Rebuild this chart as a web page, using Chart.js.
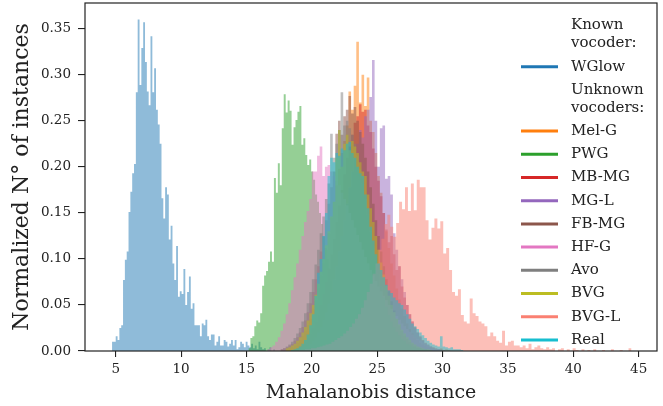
<!DOCTYPE html>
<html lang="en">
<head>
    <meta charset="UTF-8">
    <title>Mahalanobis distance</title>
    <style>
        html, body { margin: 0; padding: 0; background: #fff; }
        canvas { display: block; }
    </style>
</head>
<body>
<canvas id="myChart" width="663" height="406"></canvas>

<script src="https://cdn.jsdelivr.net/npm/chart.js@4"></script>
<script>
    // series, in drawing order (last one ends up on top)
    const names = ['WGlow', 'Mel-G', 'PWG', 'MB-MG', 'MG-L', 'FB-MG', 'HF-G', 'Avo', 'BVG', 'BVG-L', 'Real'];
    const colors = ['#1f77b4', '#ff7f0e', '#2ca02c', '#d62728', '#9467bd', '#8c564b', '#e377c2', '#7f7f7f', '#bcbd22', '#fa8072', '#17becf'];

    // left edge of the first bin and bin width of each histogram
    const binStart = [4.72, 18.0, 15.15, 18.6, 19.0, 17.6, 16.6, 17.6, 18.0, 19.025, 18.4];
    const binWidth = [0.14, 0.2, 0.15, 0.2, 0.2, 0.2, 0.2, 0.2, 0.2, 0.225, 0.2];

    const wglow = [0.010, 0.010, 0.016, 0.012, 0.025, 0.028, 0.077, 0.099, 0.108, 0.151, 0.173, 0.193, 0.203, 0.281,
        0.360, 0.289, 0.329, 0.357, 0.314, 0.282, 0.267, 0.342, 0.281, 0.307, 0.262, 0.246, 0.225, 0.166, 0.144, 0.178,
        0.170, 0.121, 0.136, 0.095, 0.077, 0.114, 0.059, 0.065, 0.062, 0.089, 0.050, 0.064, 0.081, 0.046, 0.052, 0.028,
        0.028, 0.028, 0.016, 0.030, 0.028, 0.034, 0.016, 0.012, 0.018, 0.018, 0.006, 0.010, 0.016, 0.006, 0.006, 0.012,
        0.010, 0.005, 0.008, 0.012, 0.006, 0.012, 0.002, 0.004, 0.010, 0.008, 0.004, 0.010, 0.006, 0.004, 0.008, 0.003,
        0.006, 0.002, 0.010, 0.004, 0.002, 0.003, 0, 0.002, 0.004, 0, 0.002];
    const melG = [0.002, 0.003, 0.004, 0.006, 0.009, 0.012, 0.016, 0.022, 0.028, 0.035, 0.046, 0.055, 0.068, 0.082,
        0.095, 0.110, 0.128, 0.145, 0.162, 0.180, 0.198, 0.215, 0.228, 0.245, 0.282, 0.262, 0.288, 0.336, 0.270, 0.300,
        0.266, 0.297, 0.250, 0.238, 0.215, 0.190, 0.172, 0.150, 0.130, 0.112, 0.095, 0.082, 0.068, 0.056, 0.046, 0.038,
        0.030, 0.024, 0.019, 0.015, 0.012, 0.009, 0.007, 0.006, 0.004, 0.004, 0.003, 0.002, 0.002, 0.003, 0.001, 0.002,
        0.001];
    const pwg = [0.003, 0.014, 0.016, 0.027, 0.033, 0.031, 0.041, 0.071, 0.082, 0.087, 0.097, 0.108, 0.097, 0.188,
        0.172, 0.204, 0.180, 0.242, 0.279, 0.259, 0.272, 0.261, 0.224, 0.243, 0.251, 0.260, 0.266, 0.224, 0.231, 0.213,
        0.202, 0.208, 0.195, 0.186, 0.170, 0.162, 0.150, 0.138, 0.124, 0.112, 0.100, 0.088, 0.076, 0.064, 0.054, 0.045,
        0.037, 0.030, 0.024, 0.018, 0.014, 0.010, 0.008, 0.006, 0.004, 0.003, 0.002];
    const mbMG = [0.002, 0.003, 0.005, 0.007, 0.010, 0.014, 0.019, 0.025, 0.032, 0.040, 0.050, 0.062, 0.075, 0.090,
        0.105, 0.122, 0.140, 0.158, 0.175, 0.192, 0.210, 0.222, 0.235, 0.248, 0.255, 0.268, 0.260, 0.262, 0.245, 0.238,
        0.220, 0.200, 0.185, 0.168, 0.150, 0.132, 0.118, 0.125, 0.105, 0.088, 0.092, 0.070, 0.058, 0.050, 0.040, 0.032,
        0.026, 0.020, 0.016, 0.012, 0.009, 0.007, 0.005, 0.004, 0.003, 0.002, 0.002, 0.001];
    const mgL = [0.002, 0.003, 0.004, 0.006, 0.008, 0.011, 0.015, 0.020, 0.026, 0.034, 0.042, 0.052, 0.064, 0.078,
        0.092, 0.108, 0.125, 0.142, 0.160, 0.178, 0.195, 0.210, 0.225, 0.240, 0.232, 0.255, 0.262, 0.276, 0.316, 0.250,
        0.200, 0.242, 0.245, 0.187, 0.190, 0.170, 0.128, 0.110, 0.092, 0.078, 0.064, 0.050, 0.040, 0.032, 0.025, 0.020,
        0.015, 0.011, 0.008, 0.006, 0.005, 0.003, 0.002, 0.002, 0.001];
    const fbMG = [0.002, 0.003, 0.004, 0.006, 0.008, 0.011, 0.015, 0.020, 0.026, 0.033, 0.042, 0.052, 0.064, 0.078,
        0.092, 0.108, 0.125, 0.142, 0.160, 0.178, 0.195, 0.236, 0.250, 0.235, 0.255, 0.262, 0.277, 0.258, 0.265, 0.250,
        0.238, 0.225, 0.210, 0.195, 0.178, 0.160, 0.142, 0.125, 0.108, 0.092, 0.078, 0.065, 0.054, 0.044, 0.035, 0.028,
        0.022, 0.017, 0.013, 0.010, 0.008, 0.006, 0.004, 0.003, 0.002, 0.002, 0.001];
    const hfG = [0.002, 0.004, 0.006, 0.010, 0.015, 0.022, 0.030, 0.040, 0.052, 0.066, 0.080, 0.095, 0.110, 0.125,
        0.140, 0.152, 0.165, 0.195, 0.195, 0.212, 0.222, 0.190, 0.200, 0.202, 0.195, 0.190, 0.185, 0.180, 0.172, 0.165,
        0.158, 0.150, 0.142, 0.134, 0.126, 0.118, 0.110, 0.102, 0.095, 0.088, 0.082, 0.076, 0.070, 0.065, 0.060, 0.055,
        0.050, 0.046, 0.042, 0.038, 0.034, 0.030, 0.027, 0.024, 0.021, 0.018, 0.015, 0.013, 0.011, 0.009, 0.007, 0.006,
        0.004, 0.003, 0.002, 0.002];
    const avo = [0.002, 0.003, 0.005, 0.007, 0.010, 0.014, 0.019, 0.025, 0.032, 0.041, 0.052, 0.064, 0.078, 0.094,
        0.110, 0.128, 0.146, 0.165, 0.182, 0.236, 0.210, 0.225, 0.240, 0.281, 0.245, 0.250, 0.242, 0.235, 0.225, 0.212,
        0.198, 0.182, 0.165, 0.148, 0.130, 0.114, 0.098, 0.084, 0.070, 0.058, 0.048, 0.039, 0.032, 0.026, 0.021, 0.017,
        0.013, 0.011, 0.008, 0.007, 0.005, 0.004, 0.003, 0.003, 0.002, 0.002, 0.001];
    const bvg = [0.003, 0.004, 0.006, 0.008, 0.011, 0.015, 0.020, 0.026, 0.033, 0.041, 0.050, 0.061, 0.073, 0.086,
        0.100, 0.115, 0.130, 0.146, 0.162, 0.210, 0.240, 0.200, 0.225, 0.235, 0.218, 0.228, 0.222, 0.215, 0.205, 0.195,
        0.190, 0.170, 0.155, 0.140, 0.125, 0.110, 0.096, 0.083, 0.071, 0.060, 0.050, 0.042, 0.035, 0.029, 0.023, 0.019,
        0.015, 0.012, 0.009, 0.007, 0.005, 0.004, 0.003, 0.002, 0.002, 0.001];
    const bvgL = [0.001, 0.001, 0.002, 0.002, 0.003, 0.003, 0.004, 0.005, 0.006, 0.007, 0.008, 0.010, 0.012, 0.014,
        0.016, 0.019, 0.022, 0.026, 0.030, 0.035, 0.040, 0.047, 0.055, 0.064, 0.073, 0.084, 0.095, 0.110, 0.122, 0.138,
        0.148, 0.135, 0.124, 0.139, 0.162, 0.154, 0.178, 0.152, 0.182, 0.153, 0.186, 0.178, 0.178, 0.142, 0.121, 0.134,
        0.144, 0.133, 0.141, 0.106, 0.112, 0.088, 0.064, 0.060, 0.067, 0.039, 0.032, 0.030, 0.057, 0.041, 0.038, 0.032,
        0.030, 0.027, 0.016, 0.020, 0.016, 0.011, 0.009, 0.022, 0.006, 0.010, 0.011, 0.006, 0.006, 0.004, 0.006, 0.003,
        0.008, 0.002, 0.004, 0.006, 0.003, 0.002, 0.004, 0.002, 0.003, 0, 0.002, 0.003, 0, 0.002, 0, 0.003, 0.001, 0,
        0.002, 0, 0.001, 0, 0.002, 0, 0, 0.001, 0, 0, 0.002, 0, 0, 0.001, 0, 0, 0.003];
    const real = [0.001, 0.002, 0.003, 0.005, 0.008, 0.012, 0.018, 0.028, 0.040, 0.060, 0.085, 0.100, 0.125, 0.150,
        0.190, 0.210, 0.205, 0.215, 0.212, 0.220, 0.218, 0.225, 0.227, 0.215, 0.210, 0.200, 0.193, 0.190, 0.170, 0.155,
        0.135, 0.120, 0.105, 0.095, 0.088, 0.080, 0.072, 0.066, 0.063, 0.058, 0.055, 0.052, 0.050, 0.045, 0.040, 0.035,
        0.030, 0.027, 0.024, 0.020, 0.017, 0.014, 0.011, 0.009, 0.007, 0.006, 0.005, 0.016, 0.005, 0.004, 0.003, 0.004,
        0.002, 0.002, 0.002, 0.001];

    const series = [wglow, melG, pwg, mbMG, mgL, fbMG, hfG, avo, bvg, bvgL, real];

    const xRange = [2.65, 46.4];
    const yRange = [0, 0.378];
    const xTicks = [5, 10, 15, 20, 25, 30, 35, 40, 45];
    const yTicks = [0, 0.05, 0.10, 0.15, 0.20, 0.25, 0.30, 0.35];

    // legend: group headings followed by the series indexes under them
    const legendRows = [['Known', 'vocoder:'], 0, ['Unknown', 'vocoders:'], 1, 2, 3, 4, 5, 6, 7, 8, 9, 10];

    const serif = '"DejaVu Serif", serif';
    const ink = '#222222';

    function withAlpha(hex, a) {
        let n = parseInt(hex.slice(1), 16);
        return 'rgba(' + (n >> 16) + ',' + ((n >> 8) & 255) + ',' + (n & 255) + ',' + a + ')';
    }

    // step outline of a histogram: one point per bin left edge, plus the closing right edge
    function histPoints(start, width, values) {
        let pts = values.map((v, i) => ({x: start + i * width, y: v}));
        pts.push({x: start + values.length * width, y: 0});
        return pts;
    }

    // the axes are a closed box, like matplotlib's spines
    const framePlugin = {
        id: 'frame',
        afterDatasetsDraw(chart) {
            let a = chart.chartArea, ctx = chart.ctx;
            ctx.save();
            ctx.strokeStyle = ink;
            ctx.lineWidth = 1.2;
            ctx.strokeRect(a.left, a.top, a.right - a.left, a.bottom - a.top);
            ctx.restore();
        }
    };

    const legendPlugin = {
        id: 'sideLegend',
        afterDraw(chart) {
            let a = chart.chartArea, ctx = chart.ctx;
            let lineX = a.right - 136, textX = lineX + 50;
            let y = a.top + 22.5;
            ctx.save();
            ctx.font = '15px ' + serif;
            ctx.textBaseline = 'middle';
            ctx.fillStyle = ink;
            legendRows.forEach(row => {
                if (Array.isArray(row)) {
                    ctx.fillText(row[0], textX, y);
                    y += 18;
                    ctx.fillText(row[1], textX, y);
                } else {
                    ctx.strokeStyle = colors[row];
                    ctx.lineWidth = 3;
                    ctx.beginPath();
                    ctx.moveTo(lineX, y);
                    ctx.lineTo(lineX + 37, y);
                    ctx.stroke();
                    ctx.fillText(names[row], textX, y);
                }
                y += 23.2;
            });
            ctx.restore();
        }
    };

    function init() {
        let ctx = document.getElementById('myChart').getContext('2d');
        new Chart(ctx, {
            type: 'line',
            data: {
                datasets: names.map((name, i) => ({
                    label: name,
                    data: histPoints(binStart[i], binWidth[i], series[i]),
                    stepped: true,
                    fill: 'origin',
                    backgroundColor: withAlpha(colors[i], 0.5),
                    borderColor: 'transparent',
                    borderWidth: 0,
                    pointRadius: 0,
                    order: names.length - i,
                })),
            },
            options: {
                responsive: false,
                animation: false,
                devicePixelRatio: 1,
                layout: {padding: {top: 3, right: 6, left: 0, bottom: 0}},
                plugins: {
                    legend: {display: false},
                    tooltip: {enabled: false},
                },
                scales: {
                    x: {
                        type: 'linear',
                        min: xRange[0],
                        max: xRange[1],
                        afterBuildTicks: s => { s.ticks = xTicks.map(v => ({value: v})); },
                        afterFit: s => { s.height = 55; s.paddingLeft = 0; s.paddingRight = 0; },
                        border: {display: false},
                        grid: {drawOnChartArea: false, tickLength: 6, color: ink, lineWidth: 1.1},
                        ticks: {color: ink, font: {family: serif, size: 13.5}, padding: 4, maxRotation: 0,
                            callback: v => String(v)},
                        title: {display: true, text: 'Mahalanobis distance', color: ink,
                            font: {family: serif, size: 19}, padding: {top: 0, bottom: 2}},
                    },
                    y: {
                        min: yRange[0],
                        max: yRange[1],
                        afterBuildTicks: s => { s.ticks = yTicks.map(v => ({value: v})); },
                        afterFit: s => { s.width = 85; s.paddingTop = 0; s.paddingBottom = 0; },
                        border: {display: false},
                        grid: {drawOnChartArea: false, tickLength: 7, color: ink, lineWidth: 1.1},
                        ticks: {color: ink, font: {family: serif, size: 13.5}, padding: 7,
                            callback: v => v.toFixed(2)},
                        title: {display: true, text: 'Normalized N° of instances', color: ink,
                            font: {family: serif, size: 22}, padding: {top: 9, bottom: 0}},
                    },
                },
            },
            plugins: [framePlugin, legendPlugin],
        });
    }

    document.addEventListener('DOMContentLoaded', init);
</script>

</body>
</html>
